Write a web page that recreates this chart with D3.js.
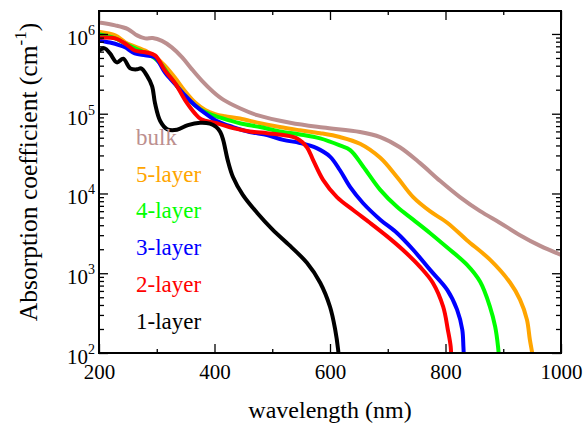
<!DOCTYPE html>
<html><head><meta charset="utf-8">
<script src="https://cdn.jsdelivr.net/npm/d3@7"></script>
<style>
body{margin:0;background:#fff}
svg{display:block}
</style>
</head><body>
<svg id="chart" width="583" height="424"></svg>
<script>
// ---- data (wavelength in nm, absorption coefficient in cm^-1) ----
const bulkWl  = [200,228,250,266,280,293,309,326,344,361,378,397,415,444,474,531,588,652,687,721,756,791,825,860,894,929,964,1000];
const bulkAbs = [1.39e6,1.28e6,1.15e6,9.6e5,8.8e5,8.9e5,8.2e5,6.8e5,5.1e5,3.6e5,2.6e5,1.9e5,1.5e5,1.17e5,9.6e4,7.7e4,6.7e4,5.9e4,5.1e4,3.8e4,2.4e4,1.43e4,9.0e3,6.0e3,4.3e3,3.0e3,2.2e3,1.7e3];

const l5Wl  = [200,228,245,257,280,297,314,332,349,366,384,401,418,444,479,513,548,583,617,652,687,716,744,773,803,837,877,912,929,941,946,950,952];
const l5Abs = [1.07e6,9.6e5,7.9e5,7.2e5,6.2e5,5.2e5,4.0e5,2.8e5,1.91e5,1.39e5,1.11e5,9.9e4,9.3e4,8.7e4,7.6e4,6.8e4,6.2e4,5.7e4,5.1e4,4.2e4,2.8e4,1.61e4,9.0e3,6.0e3,4.3e3,2.6e3,1.48e3,760,467,262,148,101,80];

const l4Wl  = [200,228,245,271,288,306,323,340,358,375,392,413,444,479,513,548,583,617,635,657,687,716,744,773,803,837,860,877,886,891,893];
const l4Abs = [9.9e5,8.8e5,7.6e5,6.2e5,5.5e5,4.3e5,2.9e5,2.0e5,1.43e5,1.14e5,9.9e4,8.8e4,7.6e4,6.8e4,6.0e4,5.5e4,4.9e4,4.0e4,3.5e4,2.2e4,1.11e4,6.8e3,4.7e3,3.2e3,2.1e3,1.28e3,780,380,214,120,80];

const l3Wl  = [200,219,236,245,262,280,297,314,332,349,366,384,404,432,461,491,519,548,577,600,617,635,657,687,716,744,773,803,820,829,831,832];
const l3Abs = [8.3e5,7.8e5,7.2e5,6.8e5,5.7e5,5.4e5,5.1e5,3.3e5,2.34e5,1.70e5,1.28e5,1.01e5,8.1e4,6.8e4,5.9e4,5.4e4,4.7e4,4.3e4,3.7e4,2.9e4,1.97e4,1.2e4,7.6e3,4.7e3,3.2e3,1.97e3,1.11e3,620,350,197,120,80];

const l2Wl  = [200,228,245,262,280,297,314,332,349,366,377,404,432,461,491,519,543,560,571,588,612,640,669,699,726,756,778,796,804,809,810];
const l2Abs = [9.0e5,8.8e5,7.6e5,6.2e5,5.9e5,5.4e5,3.5e5,2.4e5,1.48e5,1.01e5,8.5e4,7.6e4,6.6e4,6.0e4,5.7e4,5.4e4,4.9e4,3.8e4,2.6e4,1.48e4,9.0e3,6.2e3,4.3e3,2.9e3,1.97e3,1.2e3,760,380,197,120,80];

const l1Wl  = [200,210,219,231,242,254,266,273,283,292,297,306,318,335,354,375,392,403,410,415,423,432,449,474,501,531,560,583,600,609,614,615.5];
const l1Abs = [6.2e5,6.6e5,5.7e5,4.4e5,4.9e5,3.7e5,3.6e5,3.7e5,3.0e5,2.2e5,1.35e5,8.1e4,6.4e4,6.3e4,7.2e4,7.7e4,7.5e4,6.8e4,5.9e4,4.7e4,2.6e4,1.61e4,9.6e3,5.7e3,3.5e3,2.2e3,1.35e3,760,380,197,111,80];

const seriesNames  = ["bulk","5-layer","4-layer","3-layer","2-layer","1-layer"];
const seriesColors = ["#bc8f8f","#ffa500","#00ff00","#0000ff","#ff0000","#000000"];
const seriesWl  = [bulkWl,l5Wl,l4Wl,l3Wl,l2Wl,l1Wl];
const seriesAbs = [bulkAbs,l5Abs,l4Abs,l3Abs,l2Abs,l1Abs];

const xTickValues = [200,400,600,800,1000];
const xMinorTicks = [300,500,700,900];
const yTickExponents = [2,3,4,5,6];

const xLabel = "wavelength (nm)";
const yLabel = "Absorption coefficient (cm";

// ---- chart ----
const FONT = "'Liberation Serif','Times New Roman',Times,'DejaVu Serif',serif";
const pL = 99, pR = 561, pT = 11, pB = 353;
const svg = d3.select("#chart");

const x = d3.scaleLinear().domain([200,1000]).range([pL,pR]);
const y = d3.scaleLog().domain([100,1.94e6]).range([pB,pT]);

svg.append("defs").append("clipPath").attr("id","clip")
  .append("rect").attr("x",pL).attr("y",pT).attr("width",pR-pL).attr("height",pB-pT);

const line = d3.line().x(d=>x(d[0])).y(d=>y(d[1])).curve(d3.curveCatmullRom.alpha(0.5));

const plot = svg.append("g").attr("clip-path","url(#clip)");
seriesNames.forEach((name,i)=>{
  const pts = seriesWl[i].map((w,j)=>[w,seriesAbs[i][j]]);
  plot.append("path").datum(pts)
    .attr("d",line).attr("fill","none")
    .attr("stroke",seriesColors[i]).attr("stroke-width",4)
    .attr("stroke-linejoin","round");
});

const yMinor = [];
for (let e=2;e<=6;e++) for (let m=2;m<=9;m++){ const v=m*Math.pow(10,e); if(v<=1.94e6) yMinor.push(v); }
const yMajor = yTickExponents.map(e=>Math.pow(10,e));

function styleAxis(g){ g.select(".domain").remove(); g.selectAll("line").attr("stroke","#000").attr("stroke-width",1.3); }

svg.append("g").attr("transform",`translate(0,${pB})`)
  .call(d3.axisBottom(x).tickValues(xTickValues).tickSize(-9).tickPadding(11).tickFormat(d3.format("d")))
  .call(styleAxis)
  .call(g=>g.attr("font-family",FONT).attr("font-size",21))
  .call(g=>g.selectAll("text").attr("fill","#000").attr("dy","0.71em"));
svg.append("g").attr("transform",`translate(0,${pB})`)
  .call(d3.axisBottom(x).tickValues(xMinorTicks).tickSize(-4).tickFormat("")).call(styleAxis);
svg.append("g").attr("transform",`translate(0,${pT})`)
  .call(d3.axisTop(x).tickValues(xTickValues).tickSize(-9).tickFormat("")).call(styleAxis);
svg.append("g").attr("transform",`translate(0,${pT})`)
  .call(d3.axisTop(x).tickValues(xMinorTicks).tickSize(-4).tickFormat("")).call(styleAxis);

svg.append("g").attr("transform",`translate(${pL},0)`)
  .call(d3.axisLeft(y).tickValues(yMajor).tickSize(-9).tickFormat("")).call(styleAxis);
svg.append("g").attr("transform",`translate(${pL},0)`)
  .call(d3.axisLeft(y).tickValues(yMinor).tickSize(-5).tickFormat("")).call(styleAxis);
svg.append("g").attr("transform",`translate(${pR},0)`)
  .call(d3.axisRight(y).tickValues(yMajor).tickSize(-9).tickFormat("")).call(styleAxis);
svg.append("g").attr("transform",`translate(${pR},0)`)
  .call(d3.axisRight(y).tickValues(yMinor).tickSize(-5).tickFormat("")).call(styleAxis);

yTickExponents.forEach(e=>{
  const t = svg.append("text").attr("x",pL-4).attr("y",y(Math.pow(10,e))+11)
    .attr("text-anchor","end").attr("font-family",FONT).attr("font-size",21).attr("fill","#000");
  t.append("tspan").text("10");
  t.append("tspan").attr("font-size",14).attr("dy",-10).text(String(e));
});

svg.append("rect").attr("x",pL).attr("y",pT).attr("width",pR-pL).attr("height",pB-pT)
  .attr("fill","none").attr("stroke","#000").attr("stroke-width",2);

seriesNames.forEach((name,i)=>{
  svg.append("text").attr("x",136).attr("y",145+i*36.7)
    .attr("font-family",FONT).attr("font-size",23).attr("fill",seriesColors[i]).text(name);
});

svg.append("text").attr("x",330).attr("y",418).attr("text-anchor","middle")
  .attr("font-family",FONT).attr("font-size",24).attr("fill","#000").text(xLabel);
const yt = svg.append("text").attr("transform",`translate(37,172) rotate(-90)`)
  .attr("text-anchor","middle").attr("font-family",FONT).attr("font-size",25.5).attr("fill","#000");
yt.append("tspan").text(yLabel);
yt.append("tspan").attr("font-size",17).attr("dy",-11).text("-1");
yt.append("tspan").attr("dy",11).text(")");
</script>
</body></html>
